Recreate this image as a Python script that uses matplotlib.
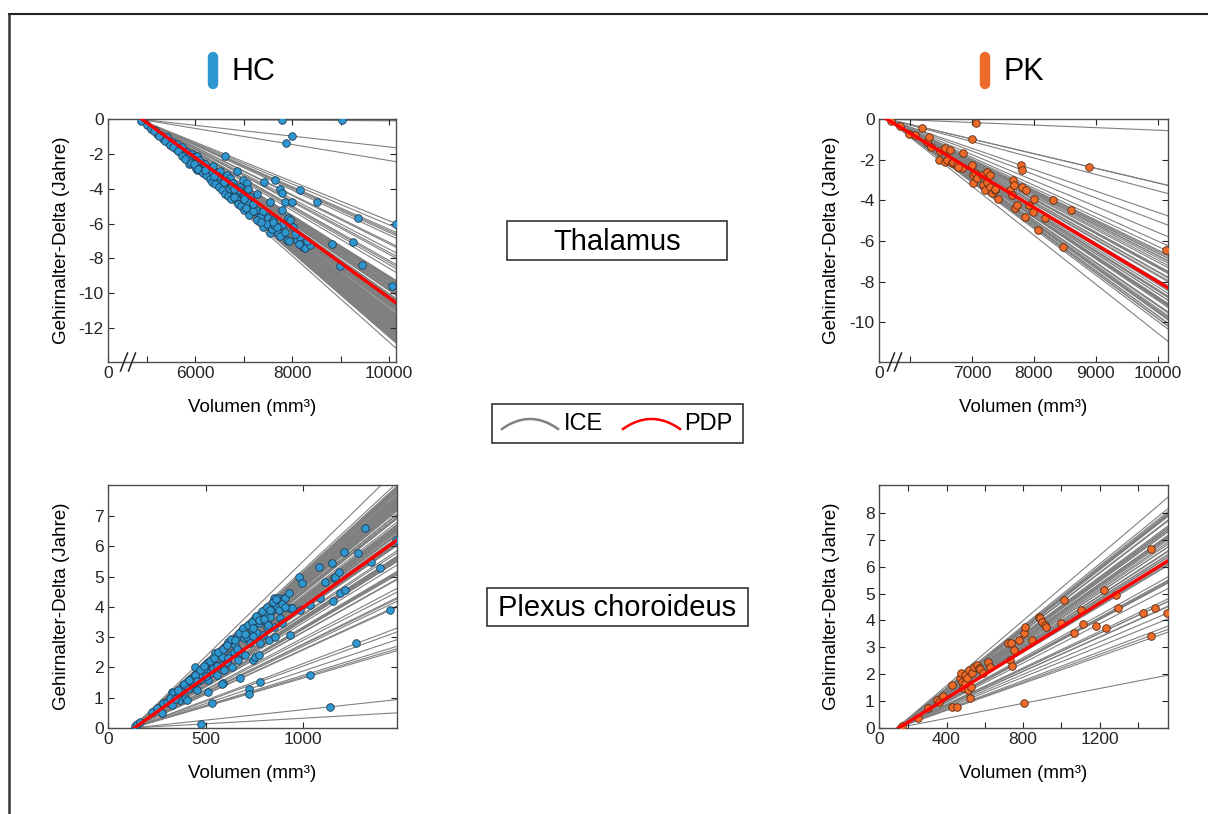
import numpy as np
import matplotlib
matplotlib.use("Agg")
import matplotlib.pyplot as plt
from matplotlib.lines import Line2D
from matplotlib.patches import Rectangle

plt.rcParams['font.family'] = ['Liberation Sans', 'DejaVu Sans']
plt.rcParams['axes.unicode_minus'] = False

W, H = 1208, 814

# ===== Daten: HC Thalamus =====
hc_thal_vol = [4880, 5003, 5175, 5278, 5415, 5518, 5621, 5724, 5656, 5827, 5930, 5965, 6033, 5827,
               5896, 6033, 6102, 6171, 6240, 6033, 6308, 6377, 6205, 6411, 6514, 6617, 6548, 6377,
               6651, 6720, 6789, 6857, 6926, 6995, 7063, 7098, 6789, 6857, 6960, 7029, 7132, 7201,
               7270, 7304, 7442, 7407, 7545, 7428, 7510, 7545, 7613, 7648, 7682, 7716, 7751, 7785,
               7785, 7819, 7854, 7888, 7922, 7957, 8025, 7991, 8094, 8163, 8163, 8232, 8266, 8369,
               8520, 8815, 8987, 9262, 9365, 9434, 10052, 10141, 7785, 9021, 7991, 7868,
               5100, 5220, 5350, 5460, 5560, 5600, 5700, 5760, 5880, 5990, 6080, 6130, 6270, 6330,
               6450, 6480, 6590, 6640, 6700, 6760, 6830, 6900, 7010, 7080, 7170, 7250, 7350, 7480,
               7580, 7620, 7700, 7760, 7850, 7940, 8060, 8150, 8300,
               5150, 5250, 5380, 5480, 5540, 5640, 5740, 5800, 5920, 5980, 6060, 6160, 6220, 6300,
               6360, 6420, 6500, 6560, 6620, 6680, 6740, 6800, 6880, 6940, 7000, 7060, 7120, 7200,
               7280, 7360, 6200, 6400, 6600, 6800, 7000, 7200, 7400, 7600]
hc_thal_delta = [-0.10, -0.35, -0.65, -0.90, -1.05, -1.30, -1.45, -1.60, -1.75, -1.90, -2.00, -2.20,
                 -2.10, -2.20, -2.40, -2.60, -2.70, -2.50, -2.90, -2.90, -2.80, -2.70, -2.60, -3.10,
                 -3.00, -2.10, -3.40, -3.45, -3.20, -3.40, -3.70, -3.00, -3.90, -3.50, -3.70, -4.00,
                 -4.20, -4.50, -4.30, -4.70, -4.50, -4.85, -4.30, -5.40, -5.40, -6.20, -4.75, -3.60,
                 -5.70, -6.57, -5.80, -3.50, -6.40, -6.57, -4.00, -4.27, -5.23, -6.00, -4.75, -6.95,
                 -5.70, -5.80, -6.20, -4.75, -6.95, -4.08, -6.76, -7.34, -7.43, -7.24, -4.75, -7.18,
                 -8.45, -7.05, -5.71, -8.39, -9.60, -6.00, -0.06, -0.06, -0.98, -1.40,
                 -0.55, -0.85, -1.15, -1.40, -1.55, -1.75, -1.90, -2.05, -2.60, -2.75, -2.35, -3.00,
                 -3.30, -3.10, -3.55, -3.30, -3.80, -3.55, -4.00, -3.85, -4.35, -4.10, -4.40, -4.75,
                 -5.10, -5.20, -5.60, -6.00, -6.30, -6.10, -6.20, -6.70, -6.50, -7.00, -6.60, -7.20,
                 -7.00,
                 -0.70, -0.95, -1.25, -1.50, -1.60, -1.85, -2.10, -2.30, -2.50, -2.60, -2.85, -3.10,
                 -3.20, -3.45, -3.60, -3.75, -3.90, -4.10, -4.30, -4.40, -4.60, -4.50, -4.90, -5.00,
                 -5.20, -5.10, -5.50, -5.30, -5.80, -5.90, -2.90, -3.30, -3.60, -4.00, -4.60, -4.90,
                 -5.30, -5.90]
hc_thal_pdp_x = [4900, 10144]
hc_thal_pdp_y = [0.0, -10.55]

# ===== Daten: PK Thalamus =====
pk_thal_vol = [5700, 5839, 5984, 6081, 6199, 6280, 6312, 6333, 6468, 6484, 6565, 6565, 6591, 6645,
               6672, 6699, 6753, 6833, 6860, 6780, 6995, 6995, 7011, 7022, 7059, 7048, 7075, 7156,
               7183, 7210, 7237, 7237, 7290, 7290, 7317, 7371, 7371, 7425, 7613, 7640, 7667, 7677,
               7694, 7720, 7790, 7812, 7801, 7871, 7855, 7925, 7989, 8000, 8070, 8177, 8312, 8473,
               8597, 8892, 10129]
pk_thal_delta = [-0.12, -0.35, -0.76, -0.79, -0.46, -1.12, -0.87, -1.36, -2.02, -1.56, -1.44, -2.10,
                 -2.02, -1.53, -2.18, -2.10, -2.27, -2.43, -1.69, -2.35, -0.98, -2.27, -2.76, -3.17,
                 -0.18, -2.68, -2.92, -2.76, -3.25, -3.50, -2.59, -3.09, -2.76, -3.33, -3.66, -3.50,
                 -3.42, -3.91, -3.50, -3.74, -3.00, -3.25, -4.40, -4.24, -2.27, -2.51, -3.33, -3.50,
                 -4.81, -4.24, -4.56, -3.91, -5.47, -4.89, -3.99, -6.29, -4.48, -2.35, -6.45]
pk_thal_pdp_x = [5620, 10166]
pk_thal_pdp_y = [0.0, -8.3]

# ===== Daten: HC Plexus choroideus =====
hc_plex_vol = [140, 150, 164, 224, 250, 275, 284, 301, 326, 326, 335, 352, 369, 386, 395, 403, 420,
               429, 438, 446, 455, 463, 472, 480, 497, 506, 514, 514, 523, 532, 532, 540, 549, 557,
               574, 583, 588, 592, 600, 608, 617, 626, 634, 643, 651, 660, 668, 677, 677, 685, 694,
               701, 711, 720, 720, 728, 737, 745, 754, 754, 762, 771, 771, 779, 779, 788, 796, 805,
               814, 822, 831, 839, 848, 851, 856, 865, 873, 882, 890, 899, 908, 925, 933, 930, 942,
               976, 984, 996, 1032, 1078, 1084, 1032, 1113, 1138, 1147, 1155, 1152, 1164, 1181,
               1190, 1210, 1215, 1272, 1280, 1318, 1348, 1395, 1446, 1477, 477, 583,
               360, 390, 415, 445, 470, 490, 520, 545, 565, 590, 610, 630, 650, 670, 690, 700, 715,
               735, 745, 760, 775, 790, 800, 815, 830, 845, 860, 875, 890, 905, 320, 345, 410, 455,
               500, 560, 615, 660, 740, 820]
hc_plex_delta = [0.08, 0.12, 0.21, 0.54, 0.65, 0.51, 0.81, 0.87, 1.20, 0.76, 1.14, 1.03, 0.92, 1.42,
                 0.98, 0.92, 1.31, 1.64, 1.47, 2.02, 1.25, 1.80, 1.58, 1.75, 1.91, 2.13, 1.58, 1.20,
                 1.80, 0.81, 2.19, 1.97, 2.46, 1.75, 2.08, 2.35, 1.47, 1.91, 2.68, 2.19, 2.85, 2.41,
                 2.02, 2.52, 2.74, 3.01, 2.24, 1.64, 2.52, 3.23, 2.96, 2.41, 3.01, 1.28, 1.12, 2.79,
                 3.23, 2.24, 3.62, 2.35, 3.12, 3.45, 2.41, 2.79, 1.53, 3.56, 3.07, 3.78, 3.34, 2.90,
                 3.67, 3.89, 3.34, 4.28, 3.01, 4.00, 4.28, 3.62, 3.45, 4.28, 4.28, 4.44, 3.95, 3.07,
                 3.95, 4.99, 3.89, 4.77, 4.06, 5.32, 4.28, 1.75, 4.83, 0.70, 5.43, 4.94, 4.19, 5.00,
                 5.16, 4.44, 5.82, 4.55, 2.79, 5.79, 6.59, 5.49, 5.27, 3.89, 6.20, 0.13, 1.44,
                 1.25, 1.45, 1.60, 1.75, 1.90, 2.05, 2.20, 2.30, 2.50, 2.60, 2.75, 2.95, 2.90, 3.15,
                 3.30, 3.10, 3.40, 3.50, 3.30, 3.70, 3.55, 3.85, 3.60, 4.00, 3.90, 4.15, 4.25, 3.90,
                 4.10, 4.00, 1.00, 0.95, 1.30, 1.55, 1.70, 2.05, 2.30, 2.60, 3.05, 3.40]
hc_plex_pdp_x = [135, 1480]
hc_plex_pdp_y = [0.0, 6.2]

# ===== Daten: PK Plexus choroideus =====
pk_plex_vol = [165, 253, 305, 349, 358, 384, 428, 428, 454, 468, 475, 480, 485, 494, 497, 506, 510,
               515, 524, 529, 532, 541, 558, 567, 576, 593, 619, 628, 719, 733, 738, 742, 750, 777,
               803, 811, 846, 881, 890, 899, 916, 921, 803, 998, 1012, 1064, 1103, 1113, 1181, 1222,
               1234, 1283, 1295, 1426, 1466, 1469, 1487, 1553]
pk_plex_delta = [0.08, 0.36, 0.73, 1.04, 0.98, 1.19, 1.60, 0.77, 0.79, 1.85, 2.03, 1.72, 1.48, 1.97,
                 1.66, 1.85, 1.41, 2.16, 1.10, 1.51, 2.06, 2.28, 2.34, 2.22, 2.18, 2.03, 2.47, 2.26,
                 3.15, 2.53, 3.15, 2.31, 2.90, 3.28, 3.52, 3.77, 3.28, 4.14, 4.08, 3.96, 3.83, 3.77,
                 0.92, 3.90, 4.76, 3.52, 4.39, 3.86, 3.81, 5.14, 3.71, 4.95, 4.45, 4.27, 6.66, 3.44,
                 4.48, 4.27]
pk_plex_pdp_x = [150, 1557]
pk_plex_pdp_y = [0.0, 6.22]

HC_FARBE = '#2f97cf'
PK_FARBE = '#ee6a28'


def px2fig(xs, ys):
    return np.array(xs) / W, 1 - np.array(ys) / H


def panel(fig, box, vol, delta, start, pdp_x, pdp_y, farbe, kante,
          xlim, ylim, xticks, xlabels, yticks, bruch=None):
    l, t, r, b = box
    ax = fig.add_axes([l / W, 1 - b / H, (r - l) / W, (b - t) / H])

    # ICE-Kurven: vom Startpunkt durch jeden Punkt bis zum rechten Rand
    vol = np.array(vol, dtype=float)
    delta = np.array(delta, dtype=float)
    steigung = delta / (vol - start)
    for s in steigung:
        ax.plot([start, xlim[1]], [0, s * (xlim[1] - start)], color='#808080', lw=0.8, zorder=1)

    ax.scatter(vol, delta, s=30, color=farbe, edgecolor=kante, linewidth=0.6, zorder=3)
    ax.plot(pdp_x, pdp_y, color='red', lw=2.4, zorder=4)

    ax.set_xlim(*xlim)
    ax.set_ylim(*ylim)
    ax.set_xticks(xticks)
    ax.set_xticklabels(xlabels)
    ax.set_yticks(yticks)
    ax.tick_params(direction='in', top=True, right=True, length=4, width=0.8,
                   labelsize=12.5, colors='#262626', pad=3)
    for sp in ax.spines.values():
        sp.set_color('#4d4d4d')
        sp.set_linewidth(1.0)

    ax.set_xlabel('Volumen (mm³)', fontsize=13.5, va='center')
    ax.set_ylabel('Gehirnalter-Delta (Jahre)', fontsize=13.5, va='center')
    ax.xaxis.set_label_coords(0.5, -(46 / (b - t)))
    ax.yaxis.set_label_coords(-47 / (r - l), 0.5)

    # Achsenbruch "//"
    if bruch is not None:
        for dx in bruch:
            xs, ys = px2fig([l + dx - 3.5, l + dx + 3.5], [b + 9, b - 9])
            fig.add_artist(Line2D(xs, ys, color='#222222', lw=1.1))
    return ax


fig = plt.figure(figsize=(W / 100, H / 100), dpi=100)

panel(fig, (108, 119, 396, 362), hc_thal_vol, hc_thal_delta, 4830,
      hc_thal_pdp_x, hc_thal_pdp_y, HC_FARBE, '#1c3c55',
      (4206, 10144), (-13.95, 0),
      [4206, 5000, 6000, 7000, 8000, 9000, 10000], ['0', '', '6000', '', '8000', '', '10000'],
      [-12, -10, -8, -6, -4, -2, 0], bruch=[16, 24])

panel(fig, (879, 119, 1168, 362), pk_thal_vol, pk_thal_delta, 5630,
      pk_thal_pdp_x, pk_thal_pdp_y, PK_FARBE, '#5a2a12',
      (5500, 10166), (-11.95, 0),
      [5500, 6000, 7000, 8000, 9000, 10000], ['0', '', '7000', '8000', '9000', '10000'],
      [-10, -8, -6, -4, -2, 0], bruch=[12, 19])

panel(fig, (108, 485, 397, 728), hc_plex_vol, hc_plex_delta, 125,
      hc_plex_pdp_x, hc_plex_pdp_y, HC_FARBE, '#1c3c55',
      (0, 1480), (0, 8.02),
      [0, 500, 1000], ['0', '500', '1000'],
      [0, 1, 2, 3, 4, 5, 6, 7])

panel(fig, (879, 485, 1168, 728), pk_plex_vol, pk_plex_delta, 140,
      pk_plex_pdp_x, pk_plex_pdp_y, PK_FARBE, '#5a2a12',
      (47, 1557), (0, 9.04),
      [47, 200, 400, 600, 800, 1000, 1200, 1400], ['0', '', '400', '', '800', '', '1200', ''],
      [0, 1, 2, 3, 4, 5, 6, 7, 8])

# ===== Kopfzeilen HC / PK =====
for x_bar, x_txt, farbe, name in [(213, 231, HC_FARBE, 'HC'), (985, 1003, PK_FARBE, 'PK')]:
    xs, ys = px2fig([x_bar, x_bar], [57, 84])
    fig.add_artist(Line2D(xs, ys, color=farbe, lw=7.5, solid_capstyle='round'))
    fx, fy = px2fig([x_txt], [72])
    fig.text(fx[0], fy[0], name, fontsize=22, ha='left', va='center', color='black')

# ===== Beschriftungskästen =====
for (l, t, r, b), txt in [((507, 221, 727, 260), 'Thalamus'),
                          ((487, 588, 748, 626), 'Plexus choroideus')]:
    x0, y0 = px2fig([l], [b])
    fig.add_artist(Rectangle((x0[0], y0[0]), (r - l) / W, (b - t) / H, transform=fig.transFigure,
                             facecolor='white', edgecolor='#222222', lw=1.1))
    cx, cy = px2fig([(l + r) / 2], [(t + b) / 2 + 1])
    fig.text(cx[0], cy[0], txt, fontsize=21, ha='center', va='center')

# ===== Legende =====
x0, y0 = px2fig([492], [443])
fig.add_artist(Rectangle((x0[0], y0[0]), (743 - 492) / W, (443 - 404) / H, transform=fig.transFigure,
                         facecolor='white', edgecolor='#222222', lw=1.1))
for a, e, farbe in [(502, 558, '#808080'), (623, 680, 'red')]:
    xx = np.linspace(a, e, 30)
    m = (a + e) / 2
    yy = 419 + 10 * ((xx - m) / ((e - a) / 2)) ** 2
    xs, ys = px2fig(xx, yy)
    fig.add_artist(Line2D(xs, ys, color=farbe, lw=1.8))
for xt, txt in [(564, 'ICE'), (684, 'PDP')]:
    fx, fy = px2fig([xt], [424])
    fig.text(fx[0], fy[0], txt, fontsize=17, ha='left', va='center')

# ===== Rahmen oben und links =====
xs, ys = px2fig([9, W], [14, 14])
fig.add_artist(Line2D(xs, ys, color='#222222', lw=1.5))
xs, ys = px2fig([9, 9], [14, H])
fig.add_artist(Line2D(xs, ys, color='#333333', lw=1.8))

fig.savefig('out.png', dpi=100)
